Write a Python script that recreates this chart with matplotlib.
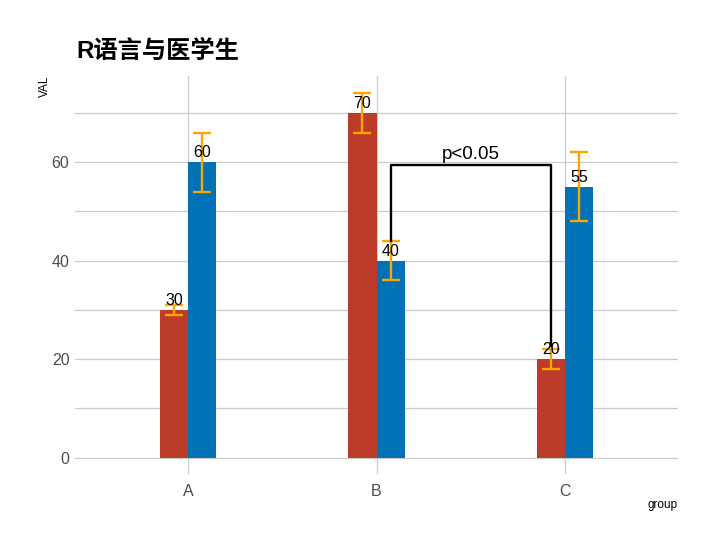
import numpy as np
import matplotlib.pyplot as plt

# data
groups = ['A', 'B', 'C']
val_red = [30, 70, 20]
val_blue = [60, 40, 55]
sd_red = [1, 4, 2]
sd_blue = [6, 4, 7]

col_red = '#BC3C29'
col_blue = '#0072B5'
col_err = '#FFA500'

plt.rcParams['font.family'] = ['Liberation Sans', 'Noto Sans CJK SC', 'DejaVu Sans']

fig = plt.figure(figsize=(7.18, 5.5), dpi=100)
ax = fig.add_axes([75/718, 1-474/550, (678-75)/718, (474-76)/550])

x = np.arange(1, len(groups)+1)
w = 0.15

ax.bar(x - w/2, val_red, width=w, color=col_red, zorder=2)
ax.bar(x + w/2, val_blue, width=w, color=col_blue, zorder=2)
ax.errorbar(x - w/2, val_red, yerr=sd_red, fmt='none', ecolor=col_err,
            elinewidth=1.7, capsize=6.8, capthick=1.7, zorder=3)
ax.errorbar(x + w/2, val_blue, yerr=sd_blue, fmt='none', ecolor=col_err,
            elinewidth=1.7, capsize=6.8, capthick=1.7, zorder=3)

for xi, v in zip(x - w/2, val_red):
    ax.text(xi, v + 0.4, str(v), ha='center', va='bottom', fontsize=11.5, zorder=4)
for xi, v in zip(x + w/2, val_blue):
    ax.text(xi, v + 0.4, str(v), ha='center', va='bottom', fontsize=11.5, zorder=4)

# significance bracket between B blue and C red
x1 = x[1] + w/2
x2 = x[2] - w/2
y_top = 59.5
ax.plot([x1, x1, x2, x2], [val_blue[1] + sd_blue[1], y_top, y_top, val_red[2] + 2.6],
        color='black', lw=1.7, zorder=5)
ax.text((x1 + x2)/2, y_top + 0.3, 'p<0.05', ha='center', va='bottom', fontsize=13.5, zorder=5)

ax.set_xlim(0.4, 3.6)
ax.set_ylim(-3.35, 77.5)
ax.set_xticks(x)
ax.set_xticklabels(groups)
ax.set_yticks([0, 20, 40, 60])
ax.set_yticks([10, 30, 50, 70], minor=True)
ax.tick_params(axis='both', which='both', length=0, labelsize=11.5, labelcolor='#4D4D4D')
ax.tick_params(axis='x', pad=7)
ax.tick_params(axis='y', pad=4)

ax.grid(True, which='both', axis='y', color='#CCCCCC', lw=0.9, zorder=0)
ax.grid(True, which='major', axis='x', color='#CCCCCC', lw=0.9, zorder=0)
for s in ax.spines.values():
    s.set_visible(False)

fig.text(76/718, 1-58/550, 'R语言与医学生', fontsize=17.5, fontweight='bold',
         ha='left', va='baseline')
fig.text(45/718, 1-76/550, 'VAL', rotation=90, fontsize=8.5, ha='center', va='top')
fig.text(678/718, 1-505/550, 'group', fontsize=8.5, ha='right', va='center')

fig.savefig('out.png', dpi=100)
